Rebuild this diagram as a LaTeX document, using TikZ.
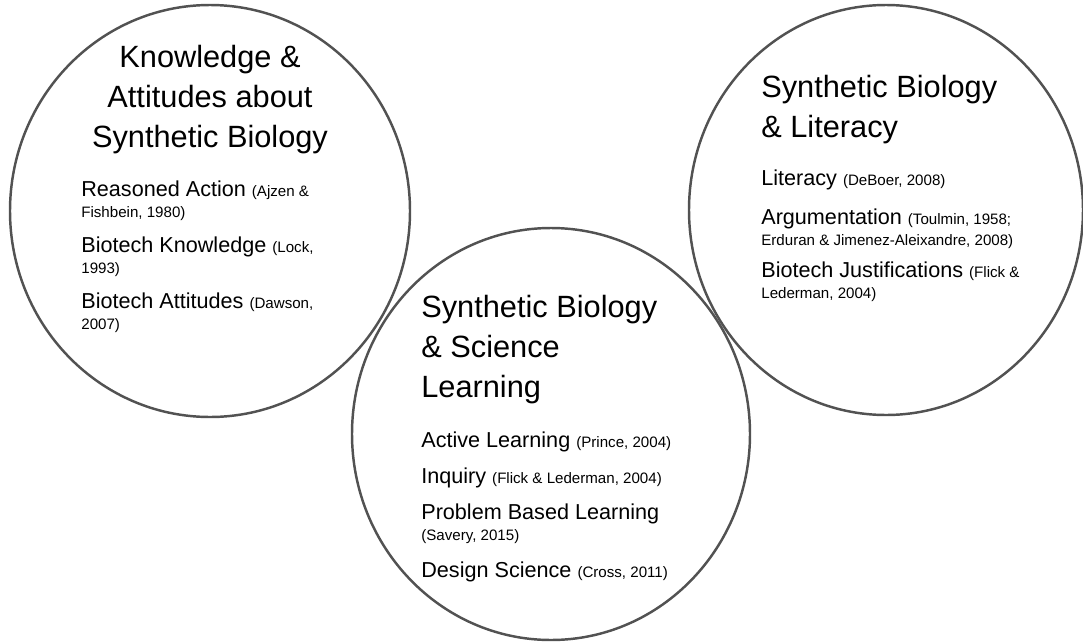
\documentclass[tikz,border=0pt]{standalone}
\usepackage{fontspec}
\setmainfont{Liberation Sans}
\newcommand{\src}[1]{{\fontsize{8.6}{11.6}\selectfont #1}}
\tikzset{
	ring/.style={draw=black!68, line width=1.4pt},
	heading/.style={font=\fontsize{17.5}{22.7}\selectfont, inner sep=0pt, anchor=base},
	entry/.style={font=\fontsize{12.3}{11.6}\selectfont, align=left, inner sep=0pt, anchor=base west}
}

\begin{document}
\begin{tikzpicture}[x=0.02cm, y=-0.02cm]
		%%%%% START %%%%%
		\useasboundingbox (0, 0) rectangle (1083, 643);
		
		\draw[ring] (210, 211) ellipse (200 and 206);
		\draw[ring] (886, 210) ellipse (197 and 205);
		\draw[ring] (551, 434) ellipse (199 and 206);
		
		% nodes sit on the baseline of their last line
		\node[heading, align=center] (kt) at (210, 147) {Knowledge \&\\Attitudes about\\Synthetic Biology};
		\node[entry] (k1) at (81, 217) {Reasoned Action \src{(Ajzen \&}\\\src{Fishbein, 1980)}};
		\node[entry] (k2) at (81, 273) {Biotech Knowledge \src{(Lock,}\\\src{1993)}};
		\node[entry] (k3) at (81, 329) {Biotech Attitudes \src{(Dawson,}\\\src{2007)}};
		
		\node[heading, align=left, anchor=base west] (lt) at (761, 137) {Synthetic Biology\\\& Literacy};
		\node[entry] (l1) at (761, 185) {Literacy \src{(DeBoer, 2008)}};
		\node[entry] (l2) at (761, 245) {Argumentation \src{(Toulmin, 1958;}\\\src{Erduran \& Jimenez-Aleixandre, 2008)}};
		\node[entry] (l3) at (761, 298) {Biotech Justifications \src{(Flick \&}\\\src{Lederman, 2004)}};
		
		\node[heading, align=left, anchor=base west] (st) at (421, 397) {Synthetic Biology\\\& Science\\Learning};
		\node[entry] (s1) at (421, 447) {Active Learning \src{(Prince, 2004)}};
		\node[entry] (s2) at (421, 483) {Inquiry \src{(Flick \& Lederman, 2004)}};
		\node[entry] (s3) at (421, 540) {Problem Based Learning\\\src{(Savery, 2015)}};
		\node[entry] (s4) at (421, 577) {Design Science \src{(Cross, 2011)}};
		%%%%% END %%%%%
\end{tikzpicture}
\end{document}
